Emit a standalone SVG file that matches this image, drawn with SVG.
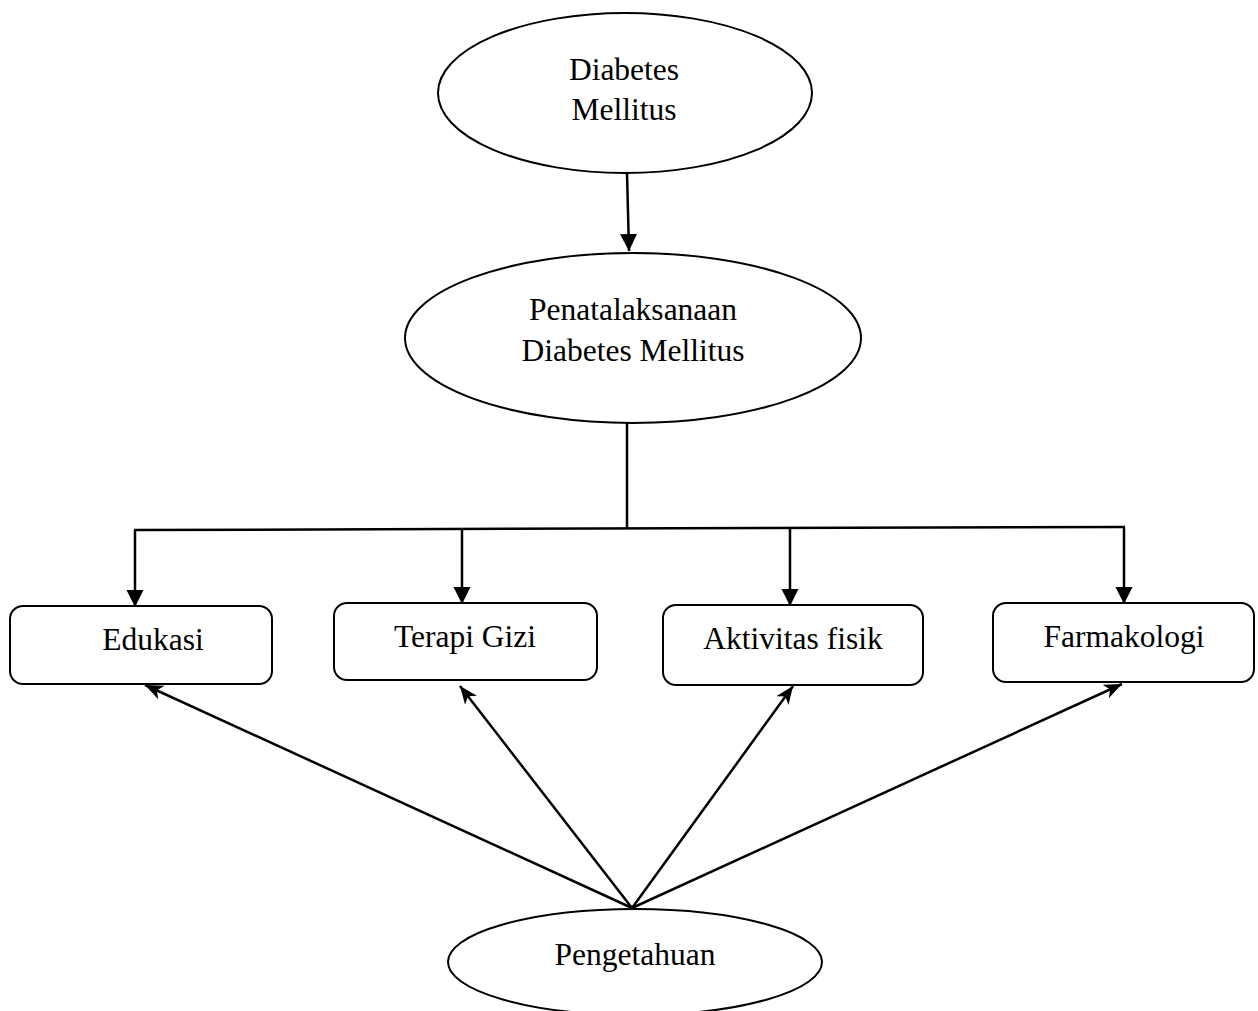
<svg xmlns="http://www.w3.org/2000/svg" width="1258" height="1011" viewBox="0 0 1258 1011">
<style>
.shape{fill:#fff;stroke:#000;stroke-width:2}
.lbl{font-family:"Liberation Serif","Times New Roman",serif;font-size:31.5px;fill:#000;text-anchor:middle}
.con{stroke:#000;stroke-width:2.5;fill:none}
</style>
<defs>
<marker id="ah" markerUnits="userSpaceOnUse" markerWidth="18" markerHeight="18" refX="17" refY="8.5" orient="auto">
<path d="M0,0 L17,8.5 L0,17 z" fill="#000"/>
</marker>
<marker id="ah2" markerUnits="userSpaceOnUse" markerWidth="20" markerHeight="16" refX="18" refY="7.5" orient="auto">
<path d="M0,0 L18,7.5 L0,15 L5,7.5 z" fill="#000"/>
</marker>
</defs>
<rect width="1258" height="1011" fill="#fff"/>
<g id="connectors">
<line class="con" x1="627" y1="173" x2="629" y2="251" marker-end="url(#ah)"/>
<line class="con" x1="627" y1="423" x2="627" y2="529"/>
<line class="con" x1="134" y1="530" x2="1125" y2="527"/>
<line class="con" x1="135" y1="530" x2="135" y2="607" marker-end="url(#ah)"/>
<line class="con" x1="462" y1="529" x2="462" y2="604" marker-end="url(#ah)"/>
<line class="con" x1="790" y1="528" x2="790" y2="606" marker-end="url(#ah)"/>
<line class="con" x1="1124" y1="527" x2="1124" y2="604" marker-end="url(#ah)"/>
<line class="con" x1="632" y1="908" x2="145" y2="685" marker-end="url(#ah2)"/>
<line class="con" x1="632" y1="908" x2="460" y2="686" marker-end="url(#ah2)"/>
<line class="con" x1="632" y1="908" x2="793" y2="686" marker-end="url(#ah2)"/>
<line class="con" x1="632" y1="908" x2="1122" y2="684" marker-end="url(#ah2)"/>
</g>
<g id="node-diabetes">
<ellipse class="shape" cx="625" cy="93" rx="187" ry="80"/>
<text class="lbl" x="624" y="80">Diabetes</text>
<text class="lbl" x="624" y="120">Mellitus</text>
</g>
<g id="node-penatalaksanaan">
<ellipse class="shape" cx="633" cy="338" rx="228" ry="85"/>
<text class="lbl" x="633" y="320">Penatalaksanaan</text>
<text class="lbl" x="633" y="361">Diabetes Mellitus</text>
</g>
<g id="node-edukasi">
<rect class="shape" x="10" y="606" width="262" height="78" rx="13"/>
<text class="lbl" x="153" y="650">Edukasi</text>
</g>
<g id="node-terapi">
<rect class="shape" x="334" y="603" width="263" height="77" rx="13"/>
<text class="lbl" x="465" y="647">Terapi Gizi</text>
</g>
<g id="node-aktivitas">
<rect class="shape" x="663" y="605" width="260" height="80" rx="13"/>
<text class="lbl" x="793" y="649">Aktivitas fisik</text>
</g>
<g id="node-farmakologi">
<rect class="shape" x="993" y="603" width="261" height="79" rx="13"/>
<text class="lbl" x="1124" y="647">Farmakologi</text>
</g>
<g id="node-pengetahuan">
<ellipse class="shape" cx="635" cy="962" rx="187" ry="53"/>
<text class="lbl" x="635" y="965">Pengetahuan</text>
</g>
</svg>
